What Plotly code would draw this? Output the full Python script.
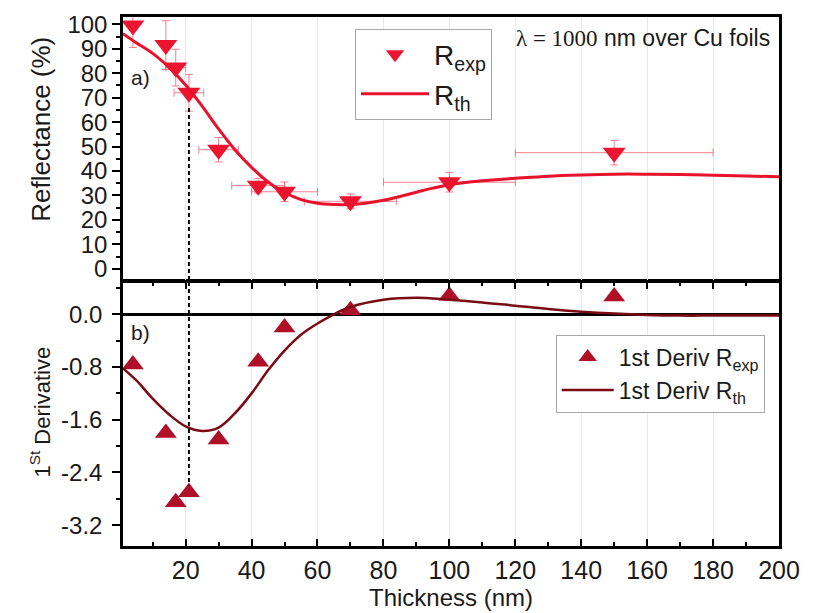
import plotly.graph_objects as go

# ---------------- data ----------------
thickness_exp = [4, 14, 17, 21, 30, 42, 50, 70, 100, 150]
R_exp = [99.5, 91.5, 82.3, 72.0, 48.7, 34.0, 31.5, 27.6, 35.4, 47.5]
R_exp_err_y = [9, 10, 7.5, 7.5, 5, 3, 4, 3, 4, 5]
R_exp_err_x = [0, 0, 3, 4.5, 6, 8, 10, 14, 20, 30]

thickness_th = [1, 5, 10, 15, 20, 25, 30, 35, 40, 45, 50, 55, 60, 65, 70, 75, 80,
                85, 90, 95, 100, 110, 120, 130, 140, 150, 160, 170, 180, 190, 200]
R_th = [96.2, 92.5, 88.1, 82.3, 75.2, 66.5, 57.2, 48.6, 41.5, 35.5, 31.2, 28.3,
        26.8, 26.3, 26.3, 26.9, 28.0, 29.6, 31.3, 33.0, 34.4, 36.0, 37.0, 37.9,
        38.4, 38.7, 38.7, 38.6, 38.3, 38.0, 37.6]

deriv_exp = [-0.76, -1.80, -2.85, -2.70, -1.90, -0.72, -0.20, 0.06, 0.28, 0.27]

thickness_dth = [1, 5, 10, 15, 20, 25, 30, 35, 40, 45, 50, 55, 60, 65, 70, 80, 90,
                 100, 110, 120, 130, 140, 150, 160, 170, 180, 190, 200]
deriv_th = [-0.82, -1.00, -1.28, -1.52, -1.70, -1.77, -1.72, -1.50, -1.20, -0.85,
            -0.55, -0.31, -0.14, 0.00, 0.11, 0.22, 0.25, 0.22, 0.18, 0.13, 0.08,
            0.04, 0.01, -0.01, -0.02, -0.02, -0.02, -0.02]

x_ticks = [20, 40, 60, 80, 100, 120, 140, 160, 180, 200]
refl_ticks = [0, 10, 20, 30, 40, 50, 60, 70, 80, 90, 100]
deriv_ticks = [0.0, -0.8, -1.6, -2.4, -3.2]
deriv_tick_labels = ["0.0", "-0.8", "-1.6", "-2.4", "-3.2"]

marker_line_x = thickness_exp[3]

# ---------------- style ----------------
FONT = "Liberation Sans, Arial, sans-serif"
TXT = "#1a1a1a"
RED = "#ec1530"
RED_LINE = "#e8122c"
ERR = "rgba(236,90,105,0.75)"
WINE = "#b00f28"
WINE_LINE = "#7a0b14"

x_range = [1, 200]
ya_range = [-4.6, 103]
yb_range = [-3.515, 0.49]

fig = go.Figure()

fig.add_trace(go.Scatter(
    x=thickness_exp, y=R_exp, mode="markers", name="R<sub>exp</sub>",
    marker=dict(symbol="triangle-down", size=20, color=RED),
    error_y=dict(type="data", array=R_exp_err_y, color=ERR, thickness=1, width=4),
    error_x=dict(type="data", array=R_exp_err_x, color=ERR, thickness=1, width=4),
    xaxis="x2", yaxis="y2", legend="legend"))
fig.add_trace(go.Scatter(
    x=thickness_th, y=R_th, mode="lines", name="R<sub>th</sub>",
    line=dict(color=RED_LINE, width=3, shape="spline"),
    xaxis="x2", yaxis="y2", legend="legend"))

fig.add_trace(go.Scatter(
    x=thickness_exp, y=deriv_exp, mode="markers", name="1st Deriv R<sub>exp</sub>",
    marker=dict(symbol="triangle-up", size=19, color=WINE),
    xaxis="x", yaxis="y", legend="legend2"))
fig.add_trace(go.Scatter(
    x=thickness_dth, y=deriv_th, mode="lines", name="1st Deriv R<sub>th</sub>",
    line=dict(color=WINE_LINE, width=2.5, shape="spline"),
    xaxis="x", yaxis="y", legend="legend2"))

common_x = dict(range=x_range, tickmode="array", tickvals=x_ticks,
                showline=True, linecolor="black", linewidth=2.5,
                showgrid=True, gridcolor="#e9e9e9", gridwidth=1, zeroline=False)

# the page adds an 8px body margin, so the figure is 8px smaller than the window
fig.update_layout(
    width=817, height=605,
    margin=dict(l=115, r=46, t=3, b=67),
    paper_bgcolor="white", plot_bgcolor="white",
    font=dict(family=FONT, color=TXT),
    xaxis=dict(**common_x, domain=[0, 1], anchor="y",
               ticks="inside", ticklen=7, tickwidth=2, tickcolor="black",
               mirror="ticks",
               minor=dict(tickmode="linear", tick0=0, dtick=10, ticks="inside",
                          ticklen=4, tickwidth=2, tickcolor="black", showgrid=False),
               tickfont=dict(size=25, family=FONT, color=TXT)),
    xaxis2=dict(**common_x, domain=[0, 1], anchor="y2", matches="x",
                ticks="", showticklabels=False, mirror=True),
    yaxis=dict(domain=[0, 0.4991], range=yb_range, anchor="x",
               tickmode="array", tickvals=deriv_ticks, ticktext=deriv_tick_labels,
               ticks="outside", ticklen=8, tickwidth=2, tickcolor="black",
               minor=dict(tickmode="linear", tick0=0, dtick=0.4, ticks="outside",
                          ticklen=4, tickwidth=2, tickcolor="black", showgrid=False),
               showline=True, linecolor="black", linewidth=2.5, mirror=True,
               showgrid=False, zeroline=True, zerolinecolor="black", zerolinewidth=2.5,
               ticklabelstandoff=5,
               tickfont=dict(size=24, family=FONT, color=TXT)),
    yaxis2=dict(domain=[0.5028, 1], range=ya_range, anchor="x2",
                tickmode="array", tickvals=refl_ticks,
                ticks="outside", ticklen=8, tickwidth=2, tickcolor="black",
                minor=dict(tickmode="linear", tick0=0, dtick=5, ticks="outside",
                           ticklen=4, tickwidth=2, tickcolor="black", showgrid=False),
                showline=True, linecolor="black", linewidth=2.5, mirror=True,
                showgrid=False, zeroline=False, ticklabeloverflow="allow",
                tickfont=dict(size=24, family=FONT, color=TXT)),
    legend=dict(x=0.3537, y=0.978, xanchor="left", yanchor="top",
                bgcolor="white", bordercolor="#a8a8a8", borderwidth=1,
                font=dict(size=28, family=FONT, color=TXT),
                itemwidth=68, tracegroupgap=0),
    legend2=dict(x=0.6596, y=0.3995, xanchor="left", yanchor="top",
                 bgcolor="white", bordercolor="#a8a8a8", borderwidth=1,
                 font=dict(size=23, family=FONT, color=TXT),
                 itemwidth=52, tracegroupgap=0),
    showlegend=True,
)

# dashed guide line at the marked thickness
fig.add_shape(type="line", xref="x2", yref="y2", x0=marker_line_x, x1=marker_line_x,
              y0=ya_range[0], y1=R_exp[3] - 5,
              line=dict(color="black", width=2, dash="4px,3px"))
fig.add_shape(type="line", xref="x", yref="y", x0=marker_line_x, x1=marker_line_x,
              y0=yb_range[1], y1=deriv_exp[3] + 0.1,
              line=dict(color="black", width=2, dash="4px,3px"))

ann = [
    dict(text="Reflectance (%)", x=-0.125, y=0.787, textangle=-90,
         font=dict(size=26)),
    dict(text="1<sup>St</sup> Derivative", x=-0.1265, y=0.2523, textangle=-90,
         font=dict(size=22)),
    dict(text="Thickness (nm)", x=0.5, y=-0.097, font=dict(size=24)),
    dict(text="a)", x=0.0274, y=0.886, font=dict(size=21)),
    dict(text="b)", x=0.0274, y=0.4037, font=dict(size=21)),
]
for a in ann:
    fig.add_annotation(xref="paper", yref="paper", showarrow=False,
                       xanchor="center", yanchor="middle",
                       **{k: v for k, v in a.items() if k != "font"},
                       font=dict(family=FONT, color=TXT, **a["font"]))

fig.add_annotation(xref="paper", yref="paper", x=0.989, y=0.9607, showarrow=False,
                   xanchor="right", yanchor="middle",
                   text="<span style=\"font-family:'Liberation Serif','Times New Roman',serif\">λ = 1000</span> nm over Cu foils",
                   font=dict(family=FONT, color=TXT, size=23))

fig.write_html("out.html")
